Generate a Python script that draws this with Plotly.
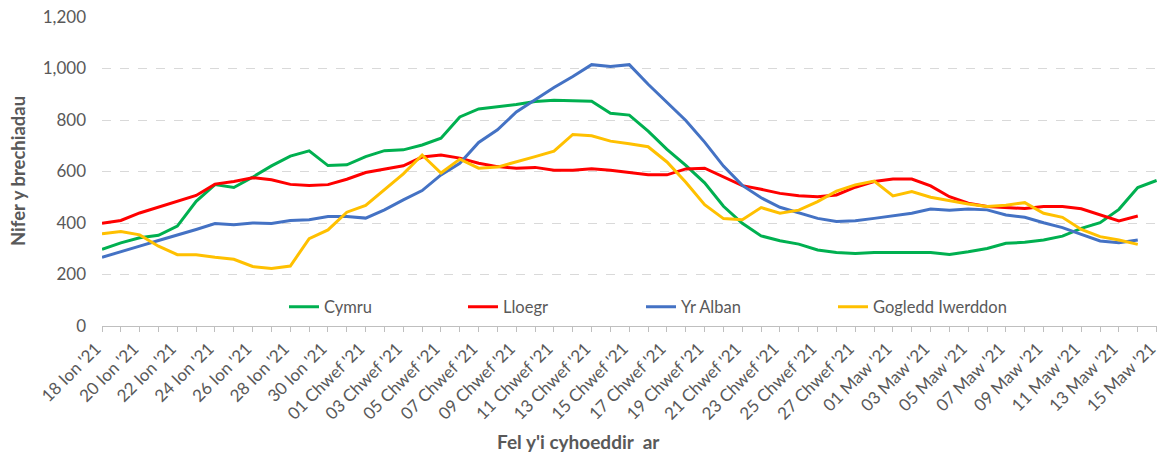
import pandas as pd
import plotly.graph_objects as go

dates = pd.date_range("2021-01-18", "2021-03-15", freq="D")

cymru = [298, 323, 343, 352, 388, 484, 549, 538, 578, 622, 660, 680, 623, 626, 658, 681,
         684, 703, 729, 812, 843, 851, 860, 872, 877, 875, 873, 826, 819, 757, 686, 624,
         556, 465, 399, 350, 331, 318, 295, 285, 282, 285, 285, 285, 285, 278, 288, 301,
         321, 325, 334, 349, 379, 401, 453, 538, 565]
lloegr = [399, 410, 439, 461, 482, 507, 551, 561, 576, 568, 550, 546, 549, 570, 596, 610,
          622, 656, 664, 652, 632, 619, 613, 616, 605, 605, 611, 605, 597, 587, 587, 610,
          613, 579, 545, 531, 515, 506, 502, 509, 539, 561, 571, 571, 544, 502, 477, 464,
          461, 456, 464, 464, 455, 431, 408, 427]
yr_alban = [267, 287, 310, 332, 352, 375, 398, 393, 400, 398, 410, 413, 425, 425, 419, 451,
            490, 526, 587, 632, 713, 762, 831, 880, 926, 969, 1015, 1008, 1015, 939, 870, 798,
            714, 621, 546, 498, 461, 438, 418, 406, 409, 418, 428, 438, 454, 450, 454, 451,
            431, 422, 401, 382, 356, 330, 323, 334]
gogledd_iwerddon = [358, 367, 354, 310, 277, 277, 267, 259, 231, 223, 233, 339, 373, 442, 468, 529,
                    591, 664, 594, 648, 613, 617, 636, 658, 679, 744, 739, 718, 708, 696, 637, 558,
                    471, 417, 413, 460, 438, 450, 483, 524, 548, 563, 505, 522, 500, 487, 474, 464,
                    469, 479, 438, 422, 375, 347, 334, 317]

tick_labels = ["18 Ion '21", "20 Ion '21", "22 Ion '21", "24 Ion '21", "26 Ion '21",
               "28 Ion '21", "30 Ion '21", "01 Chwef '21", "03 Chwef '21", "05 Chwef '21",
               "07 Chwef '21", "09 Chwef '21", "11 Chwef '21", "13 Chwef '21", "15 Chwef '21",
               "17 Chwef '21", "19 Chwef '21", "21 Chwef '21", "23 Chwef '21", "25 Chwef '21",
               "27 Chwef '21", "01 Maw '21", "03 Maw '21", "05 Maw '21", "07 Maw '21",
               "09 Maw '21", "11 Maw '21", "13 Maw '21", "15 Maw '21"]
y_ticks = [0, 200, 400, 600, 800, 1000, 1200]

series = [
    ("Cymru", cymru, "#00B050"),
    ("Lloegr", lloegr, "#FF0000"),
    ("Yr Alban", yr_alban, "#4472C4"),
    ("Gogledd Iwerddon", gogledd_iwerddon, "#FFC000"),
]

FONT = "Lato, 'Open Sans', sans-serif"
GREY = "#595959"

fig = go.Figure()
legend_names = ["legend", "legend2", "legend3", "legend4"]
for (name, vals, color), lg in zip(series, legend_names):
    fig.add_trace(go.Scatter(
        x=dates[:len(vals)], y=vals, name=name, mode="lines",
        line=dict(color=color, width=3), legend=lg,
    ))

L, R, T, B = 102, 1157, 17, 326
W = R - L
H = B - T
legend_px = [284, 463, 641, 833]
leg_y = (B - 307) / H
layout_legends = {}
for lg, px in zip(legend_names, legend_px):
    layout_legends[lg] = dict(
        x=(px - L) / W, y=leg_y, xanchor="left", yanchor="middle",
        orientation="h", bgcolor="rgba(0,0,0,0)",
        font=dict(family=FONT, size=16.5, color=GREY),
    )

fig.update_layout(
    width=1164, height=457,
    margin=dict(l=L, r=1164 - R, t=T, b=457 - B, autoexpand=False),
    paper_bgcolor="white", plot_bgcolor="white",
    showlegend=True,
    font=dict(family=FONT, color=GREY),
    **layout_legends,
)

fig.update_xaxes(
    range=[dates[0], dates[-1] + pd.Timedelta(minutes=30)],
    tickmode="array", tickvals=list(dates[::2]), ticktext=tick_labels,
    tickangle=-45, tickfont=dict(family=FONT, size=17, color=GREY),
    ticklabeloverflow="allow", ticklabelshift=-6,
    showgrid=False, zeroline=False,
    showline=True, linecolor="#BFBFBF", linewidth=1,
    ticks="outside", ticklen=5, tickcolor="#BFBFBF",
    minor=dict(dtick=86400000, ticks="outside", ticklen=5, tickcolor="#BFBFBF", showgrid=False),
)
fig.update_yaxes(
    range=[0, 1200], tickmode="array", tickvals=y_ticks,
    tickformat=",d", tickfont=dict(family=FONT, size=17, color=GREY),
    showgrid=True, gridcolor="#D9D9D9", gridwidth=1, griddash="dash",
    zeroline=False, showline=False, ticks="", ticklabelstandoff=15,
)

fig.add_annotation(
    text="<b>Nifer y brechiadau</b>", xref="paper", yref="paper",
    x=(18 - L) / W, y=(B - 171) / H, xanchor="center", yanchor="middle",
    textangle=-90, showarrow=False, font=dict(family=FONT, size=18.5, color=GREY),
)
fig.add_annotation(
    text="<b>Fel y'i cyhoeddir\u00a0 ar</b>", xref="paper", yref="paper",
    x=(578 - L) / W, y=(B - 441) / H, xanchor="center", yanchor="middle",
    showarrow=False, font=dict(family=FONT, size=19, color=GREY),
)

fig.write_html("out.html", config={"displayModeBar": False},
               post_script="document.body.style.margin='0px';")
